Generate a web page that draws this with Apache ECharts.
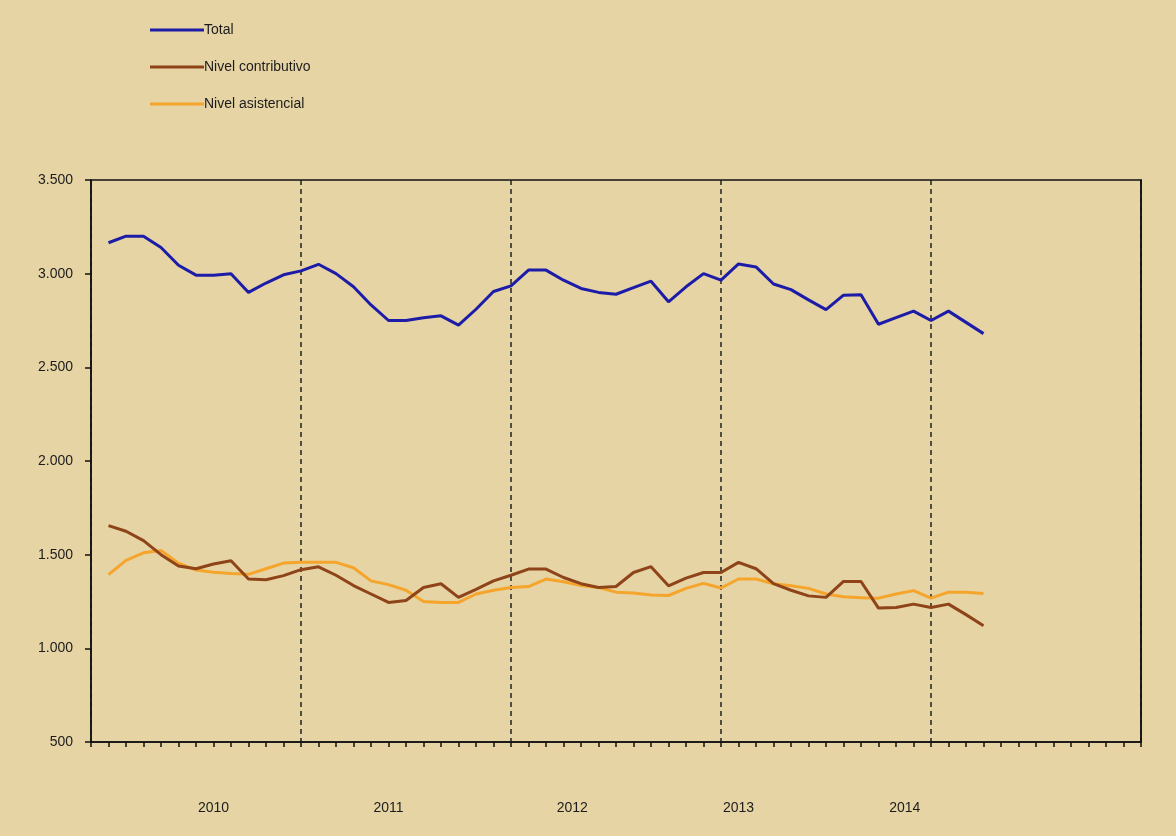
<!DOCTYPE html>
<html>
<head>
<meta charset="utf-8">
<script src="https://cdn.jsdelivr.net/npm/echarts@6/dist/echarts.min.js"></script>
<style>
  html, body { margin: 0; padding: 0; background: #E6D4A4; }
  #chart { width: 1176px; height: 836px; }
</style>
</head>
<body>
<div id="chart"></div>
<script>
// Monthly values (Jan 2010 .. Mar 2014)
const seriesNames = ['Total', 'Nivel contributivo', 'Nivel asistencial'];
const total = [
  3165, 3200, 3200, 3140, 3045, 2992, 2992, 3000, 2900, 2950, 2994, 3015,
  3050, 3000, 2930, 2833, 2750, 2750, 2765, 2775, 2725, 2810, 2905, 2935,
  3019, 3019, 2965, 2921, 2900, 2890, 2925, 2960, 2850, 2930, 3000, 2966,
  3052, 3036, 2945, 2915, 2860, 2808, 2885, 2888, 2730, 2765, 2800, 2750,
  2800, 2740, 2680
];
const contributivo = [
  1655, 1625, 1575, 1500, 1440, 1425, 1450, 1468, 1370, 1366, 1388, 1420,
  1435, 1390, 1335, 1290, 1245, 1255, 1325, 1345, 1272, 1315, 1360, 1390,
  1423, 1423, 1378, 1345, 1325, 1330, 1405, 1436, 1334, 1375, 1405, 1405,
  1459, 1425, 1345, 1310, 1280, 1272, 1357, 1357, 1215, 1218, 1236, 1218,
  1236, 1180, 1120
];
const asistencial = [
  1393, 1470, 1510, 1522, 1455, 1418, 1406, 1400, 1395, 1425, 1455, 1459,
  1459, 1459, 1430, 1360, 1340, 1310, 1250, 1245, 1245, 1290, 1310, 1325,
  1330, 1370, 1355, 1335, 1325, 1300, 1295, 1285, 1282, 1320, 1347, 1322,
  1370, 1370, 1345, 1334, 1320, 1290, 1275, 1270, 1268, 1290, 1308, 1268,
  1300, 1300, 1293
];
const years = ['2010', '2011', '2012', '2013', '2014'];
const yTicks = { min: 500, max: 3500, step: 500 };

// Month boundaries: 5 years x 12 months -> 61 tick positions
const monthNames = ['ene','feb','mar','abr','may','jun','jul','ago','sep','oct','nov','dic'];
const monthCats = [];
for (let i = 0; i <= 60; i++) {
  const y = 2010 + Math.floor(i / 12);
  monthCats.push(monthNames[i % 12] + '-' + String(y).slice(2));
}
// Each value sits on the month tick after the axis start
function onTicks(values) {
  const out = new Array(61).fill(null);
  values.forEach((v, i) => { out[i + 1] = v; });
  return out;
}

// Half-month slots used only to place the year captions under the axis
const halfSlots = [];
for (let i = 0; i <= 120; i++) halfSlots.push(String(i));
const yearSlot = { 14: years[0], 34: years[1], 55: years[2], 74: years[3], 93: years[4] };

const font = 'Liberation Sans, Arial, sans-serif';
const ink = '#1c1c1c';
const colors = ['#1C1CA8', '#8E4318', '#F5A52C'];
const lineIcon = 'path://M0,0L54,0L54,3L0,3Z';

const chart = echarts.init(document.getElementById('chart'), null, { renderer: 'canvas' });
chart.setOption({
  backgroundColor: '#E6D4A4',
  animation: false,
  textStyle: { fontFamily: font },
  legend: {
    data: seriesNames.map(n => ({ name: n, icon: lineIcon })),
    orient: 'vertical',
    left: 145,
    top: 18,
    itemWidth: 54,
    itemHeight: 14,
    itemGap: 23,
    textStyle: { fontFamily: font, fontSize: 14, color: ink, padding: [0, 0, 0, -5] }
  },
  grid: {
    left: 91, right: 35, top: 180, bottom: 94,
    show: true, borderColor: '#111', borderWidth: 1.5, backgroundColor: 'transparent'
  },
  xAxis: [
    {
      type: 'category',
      data: monthCats,
      boundaryGap: false,
      axisLine: { lineStyle: { color: '#111', width: 1.5 } },
      axisTick: { show: true, interval: 0, length: 5, inside: false, lineStyle: { color: '#111', width: 1.5 } },
      axisLabel: { show: false },
      splitLine: {
        show: true,
        interval: 11,
        lineStyle: { color: '#222', width: 1.5, type: [5, 4] }
      }
    },
    {
      type: 'category',
      data: halfSlots,
      boundaryGap: false,
      position: 'bottom',
      axisLine: { show: false },
      axisTick: { show: false },
      splitLine: { show: false },
      axisLabel: {
        interval: 0,
        margin: 59,
        fontSize: 14,
        color: ink,
        fontFamily: font,
        formatter: (v, idx) => yearSlot[idx] || ''
      }
    }
  ],
  yAxis: [
    {
      type: 'value',
      min: yTicks.min,
      max: yTicks.max,
      interval: yTicks.step,
      axisLine: { show: true, lineStyle: { color: '#111', width: 1.5 } },
      axisTick: { show: true, length: 6, lineStyle: { color: '#111', width: 1.5 } },
      splitLine: { show: false },
      axisLabel: {
        margin: 18,
        fontSize: 14,
        color: ink,
        fontFamily: font,
        formatter: v => v >= 1000 ? Math.floor(v / 1000) + '.' + String(v % 1000).padStart(3, '0') : String(v)
      }
    },
    {
      // solid right edge of the plot frame
      type: 'value',
      position: 'right',
      min: yTicks.min,
      max: yTicks.max,
      interval: yTicks.step,
      axisLine: { show: true, lineStyle: { color: '#111', width: 1.5 } },
      axisTick: { show: false },
      axisLabel: { show: false },
      splitLine: { show: false }
    }
  ],
  series: [
    {
      name: seriesNames[0], type: 'line', xAxisIndex: 0, data: onTicks(total),
      symbol: 'none',
      lineStyle: { color: colors[0], width: 3 }, itemStyle: { color: colors[0] }, z: 4
    },
    {
      name: seriesNames[1], type: 'line', xAxisIndex: 0, data: onTicks(contributivo),
      symbol: 'none',
      lineStyle: { color: colors[1], width: 3 }, itemStyle: { color: colors[1] }, z: 3
    },
    {
      name: seriesNames[2], type: 'line', xAxisIndex: 0, data: onTicks(asistencial),
      symbol: 'none',
      lineStyle: { color: colors[2], width: 3 }, itemStyle: { color: colors[2] }, z: 2
    }
  ]
});
</script>
</body>
</html>
